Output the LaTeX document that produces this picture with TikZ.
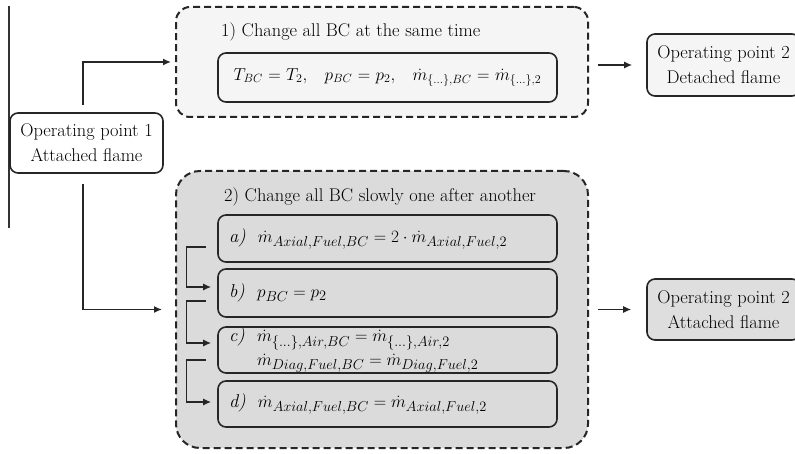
\documentclass[tikz,border=0pt]{standalone}
\usetikzlibrary{arrows.meta,calc}
\DeclareMathSizes{18.5}{18.5}{14.3}{10}
\begin{document}
\begin{tikzpicture}[x=1pt,y=-1pt,
  every node/.style={font=\fontsize{18.4}{22}\selectfont, text=black},
  opbox/.style={draw=black!85, line width=1.6pt, rounded corners=8pt, minimum width=153pt, align=center, inner sep=0pt},
  grpbox/.style={draw=black!85, line width=2pt, dash pattern=on 7pt off 4pt, inner sep=0pt},
  eqbox/.style={draw=black!85, line width=1.6pt, rounded corners=8pt, minimum width=339pt, inner sep=0pt, text width=317pt, align=left},
  loweq/.style={eqbox, font=\fontsize{18.5}{22}\selectfont},
  arr/.style={-{Latex[length=8pt,width=7pt]}, line width=1.4pt, draw=black!85},
]
\useasboundingbox (0,0) rectangle (795,454);
\coordinate (lt) at (9,6);
\coordinate (lb) at (9,228);
\draw[line width=1.2pt, black!80] (lt) -- (lb);

\node[grpbox, fill=black!4, rounded corners=14pt, minimum width=412pt, minimum height=110pt] (g1) at (382,62) {};
\node[grpbox, fill=black!14, rounded corners=24pt, minimum width=412pt, minimum height=277pt] (g2) at (382,309.5) {};

\node[anchor=west, inner sep=0pt] (t1) at (221,32) {1) Change all BC at the same time};
\node[anchor=west, inner sep=0pt] (t2) at (224,197) {2) Change all BC slowly one after another};

\node[eqbox, minimum height=49pt, align=center] (e1) at (387.5,77.5) {$T_{BC}=T_2,\hspace{14.5pt}p_{BC}=p_2,\hspace{14.5pt}\dot m_{\{\dots\},BC}=\dot m_{\{\dots\},2}$};

\node[loweq, minimum height=47pt] (ea) at (387.5,238.5) {\textit{a)}\ \ $\dot m_{Axial,Fuel,BC}=2\cdot\dot m_{Axial,Fuel,2}$};
\node[loweq, minimum height=48pt] (eb) at (387.5,293) {\textit{b)}\ \ $p_{BC}=p_2$};
\node[loweq, minimum height=46pt] (ec) at (387.5,350) {\textit{c)}\ \ $\dot m_{\{\dots\},Air,BC}=\dot m_{\{\dots\},Air,2}$\\[2pt]\hphantom{\textit{c)}\ \ }$\dot m_{Diag,Fuel,BC}=\dot m_{Diag,Fuel,2}$};
\node[loweq, minimum height=46pt] (ed) at (387.5,404) {\raisebox{-5pt}{\textit{d)}\ \ $\dot m_{Axial,Fuel,BC}=\dot m_{Axial,Fuel,2}$}};

\node[opbox, fill=white, minimum height=60pt] (op1) at (86.5,143) {Operating point 1\\[3pt]Attached flame};
\node[opbox, fill=black!4, minimum height=62pt] (op2a) at (723.5,65) {Operating point 2\\[3pt]Detached flame};
\node[opbox, fill=black!13, minimum height=61pt] (op2b) at (723.5,309.5) {Operating point 2\\[3pt]Attached flame};

\draw[arr] ([xshift=-3.5pt,yshift=7pt]op1.north) |- ([xshift=-4pt]g1.west);
\draw[arr] ([xshift=-3.5pt,yshift=-10pt]op1.south) |- ([xshift=-13pt]g2.west);
\draw[arr] ([xshift=9pt,yshift=-3pt]g1.east) -- ([xshift=-14pt]op2a.west);
\draw[arr] ([xshift=9pt]g2.east) -- ([xshift=-15pt]op2b.west);

\draw[arr] ([xshift=-11pt,yshift=-8.5pt]ea.west) -- ++(-20,0) |- ([xshift=-6pt,yshift=6pt]eb.west);
\draw[arr] ([xshift=-11pt,yshift=-8pt]eb.west) -- ++(-20,0) |- ([xshift=-6pt,yshift=7pt]ec.west);
\draw[arr] ([xshift=-11pt,yshift=-10pt]ec.west) -- ++(-20,0) |- ([xshift=-6pt,yshift=2pt]ed.west);
\end{tikzpicture}
\end{document}
